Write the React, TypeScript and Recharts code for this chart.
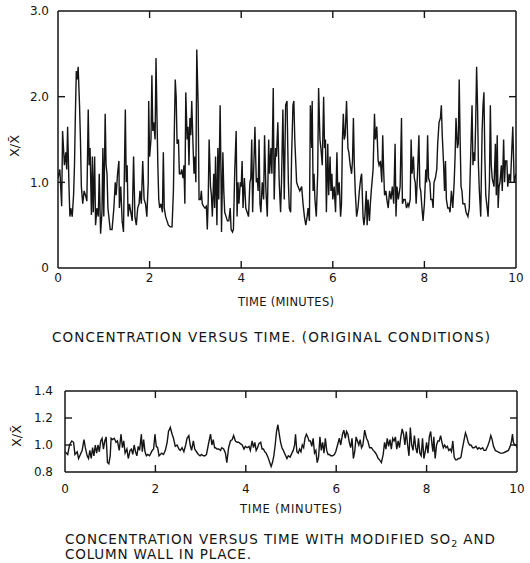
import React from 'react';
import { LineChart, Line, XAxis, YAxis } from 'recharts';

const xTicks = [0, 2, 4, 6, 8, 10];
const innerXTicks = [2, 4, 6, 8];
const topYTicks = [0, 1, 2, 3];
const topInnerYTicks = [1, 2];
const bottomYTicks = [0.8, 1.0, 1.2, 1.4];
const bottomInnerYTicks = [1.0, 1.2];

const topTime = [
  0.00, 0.04, 0.08, 0.10, 0.14, 0.17, 0.19, 0.21, 0.24, 0.26, 0.28, 0.31, 0.34, 0.36, 0.38, 0.40, 0.42, 0.44, 0.47, 0.49,
  0.51, 0.54, 0.57, 0.60, 0.63, 0.66, 0.68, 0.70, 0.73, 0.75, 0.77, 0.80, 0.82, 0.85, 0.88, 0.90, 0.93, 0.96, 0.98, 1.00,
  1.03, 1.05, 1.07, 1.09, 1.14, 1.18, 1.22, 1.25, 1.27, 1.30, 1.33, 1.34, 1.37, 1.40, 1.43, 1.47, 1.49, 1.51, 1.53, 1.56,
  1.59, 1.62, 1.65, 1.68, 1.71, 1.74, 1.77, 1.79, 1.82, 1.85, 1.88, 1.91, 1.94, 1.97, 1.98, 2.00, 2.03, 2.05, 2.07, 2.09,
  2.12, 2.14, 2.16, 2.18, 2.20, 2.22, 2.25, 2.28, 2.30, 2.32, 2.35, 2.38, 2.41, 2.45, 2.49, 2.52, 2.54, 2.56, 2.58, 2.60,
  2.63, 2.65, 2.68, 2.70, 2.73, 2.75, 2.77, 2.79, 2.82, 2.84, 2.86, 2.88, 2.90, 2.92, 2.95, 2.97, 2.99, 3.01, 3.03, 3.06,
  3.08, 3.11, 3.13, 3.15, 3.18, 3.21, 3.24, 3.26, 3.28, 3.30, 3.33, 3.35, 3.37, 3.40, 3.42, 3.44, 3.47, 3.49, 3.51, 3.54,
  3.56, 3.57, 3.60, 3.62, 3.64, 3.67, 3.70, 3.73, 3.76, 3.78, 3.81, 3.83, 3.86, 3.89, 3.91, 3.93, 3.95, 3.98, 4.00, 4.02,
  4.04, 4.07, 4.10, 4.13, 4.16, 4.19, 4.21, 4.23, 4.25, 4.27, 4.30, 4.33, 4.35, 4.37, 4.39, 4.41, 4.43, 4.46, 4.49, 4.51,
  4.54, 4.57, 4.60, 4.62, 4.65, 4.67, 4.70, 4.72, 4.75, 4.77, 4.80, 4.83, 4.86, 4.88, 4.91, 4.94, 4.97, 5.00, 5.03, 5.05,
  5.08, 5.10, 5.13, 5.15, 5.17, 5.21, 5.24, 5.28, 5.32, 5.35, 5.38, 5.41, 5.44, 5.46, 5.49, 5.51, 5.54, 5.55, 5.57, 5.59,
  5.61, 5.64, 5.67, 5.69, 5.72, 5.74, 5.77, 5.80, 5.82, 5.84, 5.86, 5.89, 5.91, 5.94, 5.96, 5.98, 6.00, 6.03, 6.06, 6.09,
  6.11, 6.14, 6.17, 6.19, 6.21, 6.23, 6.25, 6.27, 6.30, 6.33, 6.35, 6.38, 6.41, 6.43, 6.45, 6.47, 6.49, 6.52, 6.55, 6.58,
  6.61, 6.63, 6.66, 6.68, 6.70, 6.73, 6.75, 6.77, 6.80, 6.82, 6.84, 6.88, 6.91, 6.93, 6.96, 6.99, 7.01, 7.04, 7.07, 7.09,
  7.11, 7.13, 7.16, 7.18, 7.21, 7.24, 7.27, 7.30, 7.33, 7.36, 7.38, 7.40, 7.43, 7.47, 7.50, 7.52, 7.55, 7.58, 7.61, 7.64,
  7.66, 7.69, 7.71, 7.73, 7.76, 7.78, 7.80, 7.82, 7.85, 7.88, 7.90, 7.92, 7.94, 7.97, 8.00, 8.03, 8.05, 8.07, 8.09, 8.12,
  8.14, 8.17, 8.19, 8.21, 8.24, 8.27, 8.29, 8.32, 8.35, 8.37, 8.39, 8.42, 8.44, 8.46, 8.48, 8.51, 8.54, 8.56, 8.59, 8.62,
  8.65, 8.67, 8.69, 8.72, 8.74, 8.76, 8.78, 8.80, 8.82, 8.84, 8.88, 8.91, 8.95, 8.98, 9.01, 9.04, 9.06, 9.08, 9.10, 9.12,
  9.14, 9.16, 9.18, 9.20, 9.23, 9.26, 9.28, 9.30, 9.32, 9.34, 9.37, 9.39, 9.42, 9.44, 9.46, 9.48, 9.50, 9.52, 9.55, 9.57,
  9.59, 9.61, 9.63, 9.65, 9.68, 9.70, 9.73, 9.75, 9.77, 9.80, 9.82, 9.85, 9.88, 9.91, 9.93, 9.96, 10.00,
];
const topValue = [
  1.05, 1.15, 0.72, 1.60, 1.20, 1.35, 1.15, 1.65, 0.95, 0.60, 0.70, 0.60, 0.85, 1.20, 1.80, 2.30, 2.20, 2.35, 1.90, 1.50,
  0.95, 0.75, 0.90, 0.85, 0.78, 1.85, 1.20, 1.40, 0.62, 1.30, 0.65, 1.30, 0.50, 0.70, 0.60, 1.10, 0.40, 0.65, 1.40, 0.60,
  1.80, 1.20, 1.10, 0.70, 0.45, 0.45, 0.70, 1.00, 0.85, 1.10, 1.25, 0.70, 0.95, 0.55, 0.42, 1.85, 1.00, 1.20, 0.60, 0.75,
  0.65, 0.55, 1.30, 0.60, 0.50, 0.70, 0.75, 0.90, 0.75, 1.25, 0.80, 0.75, 0.60, 1.00, 1.95, 1.30, 1.50, 2.25, 1.60, 1.70,
  1.50, 2.45, 1.80, 1.20, 0.80, 0.70, 0.75, 0.65, 1.35, 0.70, 0.60, 0.55, 0.50, 0.48, 0.48, 0.90, 1.60, 2.20, 2.00, 1.45,
  1.50, 1.10, 1.10, 1.15, 1.05, 1.20, 0.75, 2.05, 1.50, 1.65, 1.20, 1.75, 1.55, 1.95, 1.40, 1.10, 1.30, 1.00, 2.55, 1.90,
  0.80, 0.80, 0.90, 0.75, 0.72, 0.70, 0.72, 0.45, 0.80, 1.50, 0.95, 0.85, 0.60, 1.10, 0.70, 1.30, 0.50, 1.40, 0.80, 1.90,
  1.05, 0.42, 1.35, 0.90, 0.65, 0.60, 0.55, 0.55, 0.70, 0.45, 0.42, 0.45, 1.15, 1.60, 0.60, 1.00, 0.75, 1.00, 0.95, 1.25,
  0.70, 1.05, 0.70, 0.65, 0.60, 1.00, 1.05, 1.50, 0.65, 1.10, 1.65, 1.00, 1.05, 0.90, 1.50, 0.75, 0.65, 1.00, 0.80, 1.55,
  0.90, 0.60, 1.50, 1.10, 1.40, 1.10, 2.10, 0.80, 1.40, 1.30, 1.70, 1.00, 0.65, 1.00, 1.85, 0.80, 1.90, 1.95, 1.00, 0.70,
  0.65, 1.30, 1.90, 1.95, 1.50, 1.00, 0.95, 0.90, 0.95, 0.75, 0.60, 0.50, 0.60, 0.70, 0.55, 1.90, 1.40, 1.95, 0.90, 1.10,
  0.80, 0.60, 1.10, 2.10, 1.50, 1.40, 1.20, 2.00, 1.40, 1.50, 0.65, 1.45, 0.85, 1.30, 0.90, 1.10, 0.80, 0.95, 0.65, 1.35,
  0.85, 1.00, 0.60, 0.75, 1.50, 1.80, 1.50, 1.55, 1.95, 1.40, 1.35, 1.20, 1.10, 1.25, 1.75, 1.20, 0.90, 0.60, 0.70, 0.90,
  1.05, 1.10, 0.60, 0.50, 0.60, 0.90, 0.50, 0.80, 0.55, 0.75, 0.90, 1.15, 1.80, 1.50, 1.65, 1.25, 1.20, 1.25, 1.00, 1.55,
  1.15, 0.85, 0.90, 0.80, 0.70, 0.90, 0.80, 0.95, 0.75, 1.45, 0.60, 0.95, 0.80, 0.95, 1.75, 0.75, 0.80, 0.80, 0.70, 0.75,
  0.72, 0.80, 1.50, 1.10, 1.30, 1.05, 1.00, 0.75, 1.10, 1.55, 0.95, 0.90, 0.75, 0.55, 0.75, 1.15, 1.00, 1.55, 1.05, 1.00,
  0.80, 0.80, 0.70, 1.00, 1.05, 1.15, 1.45, 1.70, 1.75, 1.90, 1.55, 1.20, 0.90, 1.25, 0.80, 0.70, 0.70, 0.65, 0.90, 0.70,
  1.00, 1.30, 1.75, 1.40, 1.45, 2.20, 1.50, 0.95, 0.90, 0.75, 0.75, 0.65, 0.60, 0.70, 1.30, 1.90, 1.20, 1.35, 1.25, 1.70,
  2.35, 1.90, 1.20, 0.90, 0.60, 1.60, 1.90, 2.05, 1.30, 0.85, 0.70, 0.60, 1.00, 1.90, 1.20, 1.05, 1.00, 0.95, 1.45, 0.85,
  1.55, 0.70, 0.95, 1.00, 1.20, 0.90, 1.50, 1.00, 1.25, 1.25, 0.95, 1.10, 1.00, 1.40, 1.65, 1.00, 1.10,
];

const bottomTime = [
  0.00, 0.06, 0.10, 0.15, 0.19, 0.22, 0.27, 0.30, 0.34, 0.38, 0.42, 0.45, 0.49, 0.52, 0.55, 0.58, 0.61, 0.64, 0.67, 0.70,
  0.73, 0.76, 0.79, 0.82, 0.85, 0.88, 0.91, 0.94, 0.97, 1.00, 1.02, 1.05, 1.09, 1.13, 1.16, 1.20, 1.24, 1.27, 1.30, 1.33,
  1.37, 1.40, 1.44, 1.47, 1.50, 1.53, 1.56, 1.59, 1.62, 1.65, 1.69, 1.71, 1.74, 1.77, 1.80, 1.83, 1.87, 1.90, 1.93, 1.96,
  1.99, 2.02, 2.05, 2.08, 2.11, 2.14, 2.18, 2.22, 2.26, 2.29, 2.33, 2.37, 2.40, 2.44, 2.48, 2.52, 2.55, 2.59, 2.63, 2.67,
  2.70, 2.74, 2.77, 2.80, 2.84, 2.87, 2.91, 2.95, 2.99, 3.02, 3.06, 3.10, 3.13, 3.17, 3.20, 3.22, 3.25, 3.28, 3.31, 3.33,
  3.36, 3.40, 3.44, 3.47, 3.51, 3.55, 3.58, 3.62, 3.66, 3.70, 3.73, 3.77, 3.81, 3.84, 3.88, 3.92, 3.96, 3.99, 4.03, 4.07,
  4.10, 4.14, 4.17, 4.20, 4.23, 4.26, 4.29, 4.33, 4.36, 4.39, 4.42, 4.45, 4.49, 4.53, 4.56, 4.59, 4.62, 4.65, 4.68, 4.71,
  4.74, 4.77, 4.80, 4.83, 4.87, 4.91, 4.94, 4.98, 5.02, 5.05, 5.08, 5.10, 5.13, 5.16, 5.19, 5.22, 5.25, 5.28, 5.31, 5.34,
  5.37, 5.40, 5.43, 5.46, 5.49, 5.52, 5.55, 5.58, 5.61, 5.64, 5.67, 5.70, 5.73, 5.76, 5.79, 5.82, 5.85, 5.88, 5.92, 5.96,
  5.99, 6.03, 6.07, 6.10, 6.14, 6.17, 6.20, 6.23, 6.26, 6.29, 6.32, 6.35, 6.38, 6.41, 6.44, 6.47, 6.50, 6.53, 6.56, 6.59,
  6.63, 6.67, 6.70, 6.74, 6.78, 6.82, 6.85, 6.89, 6.93, 6.96, 7.00, 7.04, 7.07, 7.10, 7.13, 7.16, 7.19, 7.22, 7.25, 7.28,
  7.31, 7.34, 7.37, 7.40, 7.43, 7.46, 7.49, 7.52, 7.55, 7.58, 7.61, 7.64, 7.67, 7.70, 7.73, 7.76, 7.79, 7.82, 7.85, 7.88,
  7.91, 7.94, 7.97, 8.00, 8.03, 8.06, 8.09, 8.12, 8.14, 8.16, 8.19, 8.22, 8.25, 8.28, 8.31, 8.34, 8.37, 8.40, 8.43, 8.46,
  8.49, 8.52, 8.55, 8.58, 8.61, 8.64, 8.67, 8.70, 8.73, 8.76, 8.79, 8.83, 8.86, 8.89, 8.92, 8.95, 8.98, 9.02, 9.05, 9.09,
  9.13, 9.16, 9.20, 9.24, 9.27, 9.31, 9.35, 9.39, 9.42, 9.45, 9.48, 9.52, 9.57, 9.63, 9.69, 9.75, 9.81, 9.85, 9.88, 9.90,
  9.92, 9.95, 9.98, 10.00,
];
const bottomValue = [
  0.95, 0.93, 1.00, 1.03, 1.02, 0.93, 0.95, 0.90, 0.93, 0.96, 1.04, 0.98, 0.92, 0.90, 0.96, 0.90, 0.98, 0.92, 1.00, 0.94,
  1.00, 0.95, 1.03, 1.05, 0.97, 1.03, 1.06, 0.87, 0.86, 0.92, 1.05, 1.04, 1.05, 1.02, 1.03, 0.96, 1.08, 0.98, 1.03, 0.94,
  0.97, 0.90, 0.96, 0.97, 0.93, 1.00, 0.95, 0.92, 0.99, 0.96, 1.08, 0.95, 1.04, 0.95, 0.92, 0.93, 0.92, 0.94, 0.96, 0.97,
  1.08, 0.99, 0.98, 0.92, 0.93, 0.94, 0.93, 0.96, 1.02, 1.10, 1.13, 1.08, 1.05, 0.99, 1.00, 0.97, 0.96, 0.98, 0.95, 1.00,
  1.05, 1.07, 1.00, 0.96, 1.03, 0.97, 0.95, 0.93, 0.92, 0.93, 0.92, 0.92, 0.93, 1.00, 1.05, 1.08, 1.00, 1.04, 0.98, 0.98,
  0.97, 0.97, 0.96, 0.98, 0.97, 0.94, 0.87, 0.98, 1.03, 1.04, 1.07, 1.03, 1.02, 1.02, 1.01, 1.00, 0.97, 0.99, 0.98, 0.99,
  0.96, 1.03, 0.98, 1.02, 0.96, 0.98, 1.01, 1.02, 0.97, 0.97, 0.95, 0.94, 0.91, 0.87, 0.84, 0.87, 0.92, 1.00, 1.10, 1.15,
  1.08, 1.02, 0.98, 0.96, 0.93, 0.90, 0.92, 0.91, 0.94, 0.96, 1.00, 1.08, 0.95, 0.94, 0.97, 0.95, 1.00, 0.98, 1.05, 1.08,
  1.06, 1.03, 1.03, 0.99, 1.05, 0.94, 0.96, 0.87, 0.91, 1.06, 0.96, 1.02, 0.94, 1.05, 0.96, 0.93, 0.93, 0.92, 0.92, 0.93,
  0.95, 1.00, 1.05, 1.00, 1.08, 1.11, 1.05, 1.10, 1.08, 1.02, 0.98, 1.05, 0.90, 0.95, 1.06, 1.03, 1.00, 1.04, 0.98, 1.00,
  1.11, 1.05, 1.03, 0.98, 0.98, 0.96, 0.95, 0.93, 0.90, 0.89, 0.87, 0.93, 1.02, 0.97, 1.05, 0.99, 1.04, 0.97, 1.05, 1.03,
  1.06, 0.97, 1.03, 0.98, 1.06, 1.12, 1.08, 1.00, 1.10, 1.00, 0.92, 1.13, 1.00, 0.96, 1.07, 0.98, 0.94, 1.05, 0.94, 0.92,
  1.05, 0.90, 0.95, 1.02, 0.94, 1.06, 1.10, 1.00, 0.95, 1.06, 0.90, 1.00, 1.03, 1.03, 1.07, 1.02, 0.98, 1.00, 0.98, 0.99,
  0.96, 0.97, 0.95, 1.03, 0.91, 0.89, 0.89, 0.90, 0.90, 0.91, 0.97, 1.04, 1.09, 1.06, 1.02, 1.00, 1.00, 0.98, 0.98, 0.99,
  0.97, 0.98, 0.97, 0.98, 0.96, 0.96, 0.99, 1.03, 1.07, 1.04, 0.99, 0.96, 0.95, 0.94, 0.94, 0.95, 0.96, 0.99, 1.03, 1.08,
  1.02, 1.00, 1.00, 0.98,
];

const topData = topTime.map((t, i) => ({ t, v: topValue[i] }));
const bottomData = bottomTime.map((t, i) => ({ t, v: bottomValue[i] }));

const FONT = 'DejaVu Sans';
const INK = '#151515';
const tickStyle = { fill: INK, fontSize: 12, fontFamily: FONT };
const axisLineStyle = { stroke: INK, strokeWidth: 1.5 };
const tickLineStyle = { stroke: INK, strokeWidth: 1.4 };
const noLabel = () => <g />;

type PanelProps = {
  data: { t: number; v: number }[];
  width: number;
  height: number;
  margin: { top: number; right: number; bottom: number; left: number };
  yWidth: number;
  xHeight: number;
  yDomain: [number, number];
  yTicks: number[];
  innerYTicks: number[];
  xTickMargin: number;
  yTickMargin: number;
  yFormat: (v: number) => string;
};

function Panel(p: PanelProps) {
  return (
    <LineChart width={p.width} height={p.height} data={p.data} margin={p.margin}>
      <XAxis
        xAxisId="x"
        dataKey="t"
        type="number"
        domain={[0, 10]}
        ticks={xTicks}
        interval={0}
        allowDataOverflow
        tickLine={false}
        tickSize={0}
        tickMargin={p.xTickMargin}
        height={p.xHeight}
        axisLine={axisLineStyle}
        tick={tickStyle}
      />
      <XAxis
        xAxisId="xb"
        dataKey="t"
        type="number"
        domain={[0, 10]}
        ticks={innerXTicks}
        interval={0}
        allowDataOverflow
        mirror
        tick={noLabel}
        tickLine={tickLineStyle}
        tickSize={7}
        axisLine={false}
        height={8}
      />
      <XAxis
        xAxisId="xt"
        orientation="top"
        dataKey="t"
        type="number"
        domain={[0, 10]}
        ticks={innerXTicks}
        interval={0}
        allowDataOverflow
        mirror
        tick={noLabel}
        tickLine={tickLineStyle}
        tickSize={7}
        axisLine={axisLineStyle}
        height={8}
      />
      <YAxis
        yAxisId="y"
        type="number"
        domain={p.yDomain}
        ticks={p.yTicks}
        interval={0}
        allowDataOverflow
        width={p.yWidth}
        tickLine={false}
        tickSize={0}
        tickMargin={p.yTickMargin}
        axisLine={axisLineStyle}
        tick={tickStyle}
        tickFormatter={p.yFormat}
      />
      <YAxis
        yAxisId="yl"
        type="number"
        domain={p.yDomain}
        ticks={p.innerYTicks}
        interval={0}
        allowDataOverflow
        mirror
        width={8}
        tick={noLabel}
        tickLine={tickLineStyle}
        tickSize={7}
        axisLine={false}
      />
      <YAxis
        yAxisId="yr"
        orientation="right"
        type="number"
        domain={p.yDomain}
        ticks={p.innerYTicks}
        interval={0}
        allowDataOverflow
        mirror
        width={8}
        tick={noLabel}
        tickLine={tickLineStyle}
        tickSize={7}
        axisLine={axisLineStyle}
      />
      <Line
        xAxisId="x"
        yAxisId="y"
        type="linear"
        dataKey="v"
        stroke={INK}
        strokeWidth={1.4}
        dot={false}
        activeDot={false}
        isAnimationActive={false}
      />
    </LineChart>
  );
}

export default function App() {
  return (
    <div style={{ position: 'absolute', left: 0, top: 0, width: 530, height: 563, background: '#fff', overflow: 'hidden' }}>
      <div style={{ position: 'absolute', left: 0, top: 0 }}>
        <Panel
          data={topData}
          width={530}
          height={300}
          margin={{ top: 11, right: 14, bottom: 0, left: 0 }}
          yWidth={58}
          xHeight={32}
          yDomain={[0, 3]}
          yTicks={topYTicks}
          innerYTicks={topInnerYTicks}
          xTickMargin={5}
          yTickMargin={9}
          yFormat={(v: number) => (v === 0 ? '0' : v.toFixed(1))}
        />
      </div>
      <div style={{ position: 'absolute', left: 0, top: 380 }}>
        <Panel
          data={bottomData}
          width={530}
          height={120}
          margin={{ top: 11, right: 13, bottom: 0, left: 0 }}
          yWidth={65}
          xHeight={28}
          yDomain={[0.8, 1.4]}
          yTicks={bottomYTicks}
          innerYTicks={bottomInnerYTicks}
          xTickMargin={12}
          yTickMargin={12}
          yFormat={(v: number) => v.toFixed(1)}
        />
      </div>
      <svg
        width={530}
        height={563}
        style={{ position: 'absolute', left: 0, top: 0, pointerEvents: 'none' }}
        fontFamily={FONT}
        fill={INK}
      >
        <text transform="translate(19,146) rotate(-90)" textAnchor="middle" fontSize={13}>X/X̄</text>
        <text transform="translate(21,436) rotate(-90)" textAnchor="middle" fontSize={13}>X/X̄</text>
        <text x={238} y={306} fontSize={11.5} textLength={96} lengthAdjust="spacing">TIME (MINUTES)</text>
        <text x={52} y={342} fontSize={13.5} textLength={438} lengthAdjust="spacing">
          CONCENTRATION VERSUS TIME.  (ORIGINAL CONDITIONS)
        </text>
        <text x={240} y={513} fontSize={11.5} textLength={102} lengthAdjust="spacing">TIME (MINUTES)</text>
        <text x={65} y={544} fontSize={13.5} textLength={430} lengthAdjust="spacing">
          CONCENTRATION VERSUS TIME WITH MODIFIED SO<tspan dy={3} fontSize={9.5}>2</tspan>
          <tspan dy={-3}> AND</tspan>
        </text>
        <text x={65} y={559} fontSize={13.5} textLength={186} lengthAdjust="spacing">COLUMN WALL IN PLACE.</text>
      </svg>
    </div>
  );
}
